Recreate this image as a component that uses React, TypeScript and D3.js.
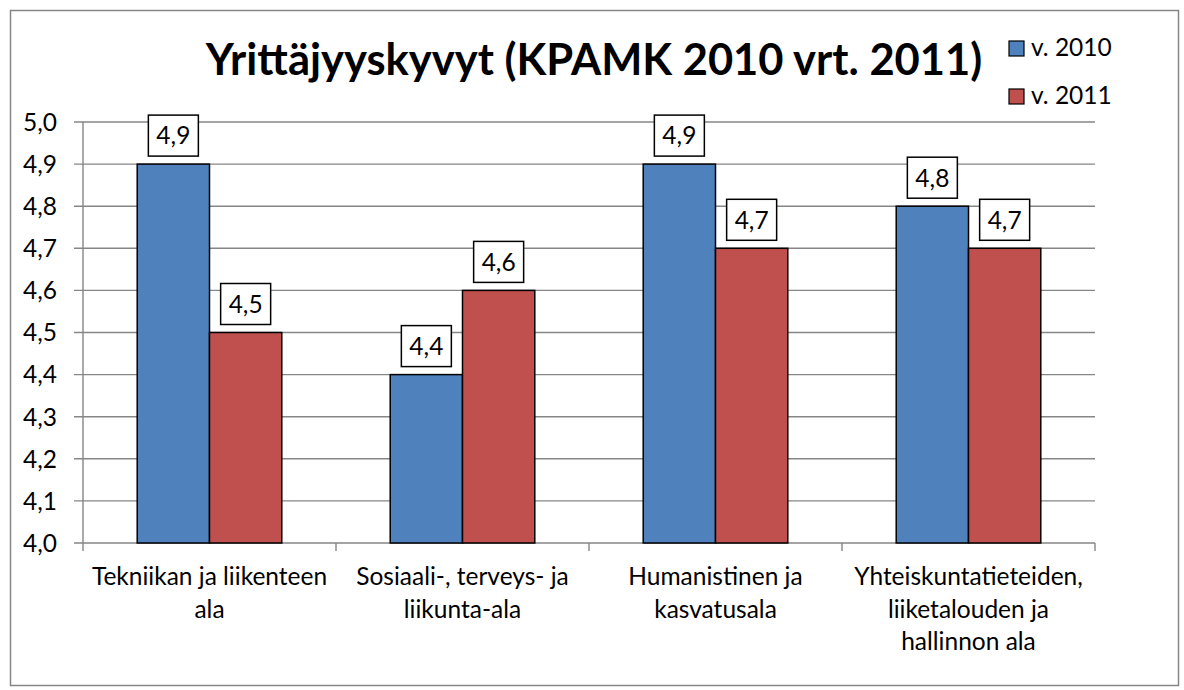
import React from "react";
import * as d3 from "d3";

const categories: string[][] = [
  ["Tekniikan ja liikenteen", "ala"],
  ["Sosiaali-, terveys- ja", "liikunta-ala"],
  ["Humanistinen ja", "kasvatusala"],
  ["Yhteiskuntatieteiden,", "liiketalouden ja", "hallinnon ala"],
];
const seriesNames = ["v. 2010", "v. 2011"];
const values2010 = [4.9, 4.4, 4.9, 4.8];
const values2011 = [4.5, 4.6, 4.7, 4.7];
const seriesColors = ["#4F81BD", "#C0504D"];
const yTicks = [4.0, 4.1, 4.2, 4.3, 4.4, 4.5, 4.6, 4.7, 4.8, 4.9, 5.0];
const title = "Yrittäjyyskyvyt (KPAMK 2010 vrt. 2011)";

const W = 1184;
const H = 690;
const FONT = "Lato, 'Open Sans', sans-serif";
const GRID = "#868686";
const FS = 24.5;

export default function App() {
  const plotLeft = 83;
  const plotRight = 1095;
  const plotTop = 122;
  const plotBottom = 543;

  const keys = categories.map((_, i) => String(i));
  const x0 = d3.scaleBand<string>().domain(keys).range([plotLeft, plotRight]).padding(0);
  const x1 = d3
    .scaleBand<string>()
    .domain(seriesNames)
    .range([0, x0.bandwidth()])
    .paddingInner(0)
    .paddingOuter(0.75);
  const y = d3.scaleLinear().domain([4.0, 5.0]).range([plotBottom, plotTop]);
  const fmt = (v: number) => d3.format(".1f")(v).replace(".", ",");
  const series = [values2010, values2011];

  return (
    <svg
      width={W}
      height={H}
      style={{ position: "absolute", left: 0, top: 0, background: "#fff" }}
      fontFamily={FONT}
    >
      <rect x={0} y={0} width={W} height={H} fill="#fff" />
      <rect x={10.5} y={10.5} width={1168} height={675} fill="#fff" stroke={GRID} strokeWidth={1.5} />

      {/* title */}
      <text x={594} y={75} textAnchor="middle" fontSize={43.5} fontWeight={700} fill="#000">
        {title}
      </text>

      {/* gridlines and y ticks */}
      {yTicks.map((t) => (
        <g key={t}>
          <line x1={plotLeft - 9} x2={plotRight} y1={y(t)} y2={y(t)} stroke={GRID} strokeWidth={1.4} />
          <text x={57} y={y(t)} dy="0.36em" textAnchor="end" fontSize={FS} fill="#000">
            {fmt(t)}
          </text>
        </g>
      ))}

      {/* y axis line */}
      <line x1={plotLeft} x2={plotLeft} y1={plotTop} y2={plotBottom} stroke={GRID} strokeWidth={1.4} />
      {/* x axis ticks */}
      {[...keys.map((k) => x0(k) as number), plotRight].map((px, i) => (
        <line key={i} x1={px} x2={px} y1={plotBottom} y2={plotBottom + 8} stroke={GRID} strokeWidth={1.4} />
      ))}

      {/* bars */}
      {keys.map((k, ci) =>
        seriesNames.map((s, si) => {
          const v = series[si][ci];
          const bx = (x0(k) as number) + (x1(s) as number);
          const bw = x1.bandwidth();
          const by = y(v);
          return (
            <rect
              key={k + s}
              x={bx}
              y={by}
              width={bw}
              height={plotBottom - by}
              fill={seriesColors[si]}
              stroke="#000"
              strokeWidth={1.5}
            />
          );
        })
      )}

      {/* value labels */}
      {keys.map((k, ci) =>
        seriesNames.map((s, si) => {
          const v = series[si][ci];
          const cx = (x0(k) as number) + (x1(s) as number) + x1.bandwidth() / 2;
          const by = y(v);
          const bh = 41;
          const bwid = 50;
          const top = by - 8 - bh;
          return (
            <g key={"l" + k + s}>
              <rect
                x={cx - bwid / 2}
                y={top}
                width={bwid}
                height={bh}
                fill="#fff"
                stroke="#000"
                strokeWidth={1.5}
              />
              <text x={cx} y={top + bh / 2} dy="0.36em" textAnchor="middle" fontSize={FS} fill="#000">
                {fmt(v)}
              </text>
            </g>
          );
        })
      )}

      {/* category labels */}
      {keys.map((k, ci) => {
        const cx = (x0(k) as number) + x0.bandwidth() / 2;
        return (
          <text key={"c" + k} x={cx} textAnchor="middle" fontSize={FS} fill="#000">
            {categories[ci].map((line, li) => (
              <tspan key={li} x={cx} y={585 + li * 32.5}>
                {line}
              </tspan>
            ))}
          </text>
        );
      })}

      {/* legend */}
      {seriesNames.map((s, si) => (
        <g key={"lg" + s}>
          <rect
            x={1009}
            y={41 + si * 48}
            width={15}
            height={15}
            fill={seriesColors[si]}
            stroke="#000"
            strokeWidth={1.2}
          />
          <text x={1031} y={56 + si * 48} fontSize={FS} fill="#000">
            {s}
          </text>
        </g>
      ))}
    </svg>
  );
}
